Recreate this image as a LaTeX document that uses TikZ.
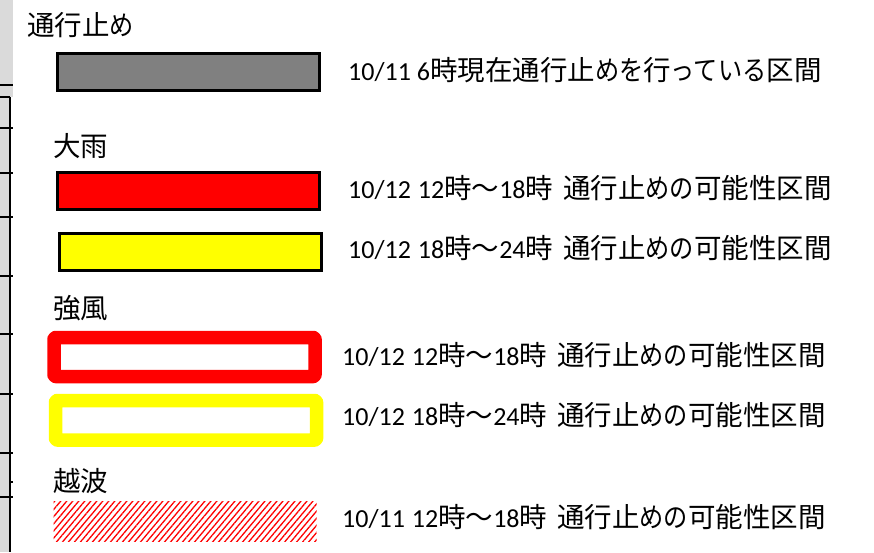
\documentclass[tikz,border=0pt]{standalone}
\usepackage{fontspec}
\setmainfont{Carlito}
\newfontfamily\jp{Noto Sans CJK JP}
\newfontfamily\jpk[FakeStretch=0.88]{Noto Sans CJK JP}
\usetikzlibrary{patterns.meta}
\definecolor{hdrgray}{RGB}{218,218,218}
\definecolor{boxgray}{RGB}{128,128,128}
\definecolor{myred}{RGB}{255,0,0}
\definecolor{myyellow}{RGB}{255,255,0}
\newcommand{\J}[1]{{\jp\fontsize{27.5}{30}\selectfont #1}}
\newcommand{\K}[1]{{\jpk\fontsize{27.5}{30}\selectfont #1}}
\newcommand{\SP}[1]{\hspace{#1pt}}
\tikzset{
  lbl/.style={anchor=base west, inner sep=0pt, font=\fontsize{26}{30}\selectfont},
  head/.style={anchor=base west, inner sep=0pt},
  fillbox/.style={draw=black, line width=2.5pt, anchor=north west, inner sep=0pt, minimum width=262pt, minimum height=37pt},
  framebox/.style={line width=13.5pt, rounded corners=1.5pt, line join=round, fill=white},
  tick/.style={line width=1.3pt, draw=black},
}
\begin{document}
\begin{tikzpicture}[x=1pt,y=1pt]
\useasboundingbox (0,0) rectangle (874,-552);
% spreadsheet fragment on the left
\fill[hdrgray] (0,0) rectangle (13,-97);
\fill[hdrgray] (0,-97) rectangle (9.5,-552);
\draw[tick] (0,-85) -- (13,-85);
\draw[tick] (0,-97) -- (10,-97);
\draw[line width=1.5pt] (10,-97) -- (10,-552);
\foreach \yy in {128,173,217,276,334,394,453,497} {\draw[tick] (0,-\yy) -- (13,-\yy);}
\draw[tick] (10,-482) -- (13,-482);
% headings
\node[head] (h1) at (27,-35.5) {\J{通行止}\K{め}};
\node[head] (h2) at (53,-156.5) {\J{大雨}};
\node[head] (h3) at (53,-318.5) {\J{強風}};
\node[head] (h4) at (53,-491.5) {\J{越波}};
% boxes
\node[fillbox, fill=boxgray] (b1) at (56.25,-52.25) {};
\node[fillbox, fill=myred] (b2) at (56.25,-171.25) {};
\node[fillbox, fill=myyellow] (b3) at (58.25,-232.25) {};
\draw[framebox, draw=myred] (54,-337.5) rectangle (315,-376.5);
\node[inner sep=0pt, minimum width=261pt, minimum height=39pt] (b4) at (184.5,-357) {};
\draw[framebox, draw=myyellow] (55.5,-400.5) rectangle (316.5,-440);
\node[inner sep=0pt, minimum width=261pt, minimum height=39.5pt] (b5) at (186,-420.25) {};
\node[anchor=north west, inner sep=0pt, minimum width=263pt, minimum height=40pt,
      pattern={Lines[angle=50, distance=4.6pt, line width=1.3pt]}, pattern color=myred] (b6) at (53,-501) {};
% labels
\node[lbl] (t1) at (348,-80) {10/11 6\J{時現在通行止}\K{めを}\J{行}\K{っている}\J{区間}};
\node[lbl] (t2) at (348,-198) {10/12\SP{7}12\J{時～}18\J{時}\SP{10}\J{通行止}\K{めの}\J{可能性区間}};
\node[lbl] (t3) at (348,-258) {10/12\SP{7}18\J{時～}24\J{時}\SP{10}\J{通行止}\K{めの}\J{可能性区間}};
\node[lbl] (t4) at (342,-365) {10/12\SP{7}12\J{時～}18\J{時}\SP{10}\J{通行止}\K{めの}\J{可能性区間}};
\node[lbl] (t5) at (342,-425) {10/12\SP{7}18\J{時～}24\J{時}\SP{10}\J{通行止}\K{めの}\J{可能性区間}};
\node[lbl] (t6) at (342,-527) {10/11\SP{7}12\J{時～}18\J{時}\SP{10}\J{通行止}\K{めの}\J{可能性区間}};
\end{tikzpicture}
\end{document}
